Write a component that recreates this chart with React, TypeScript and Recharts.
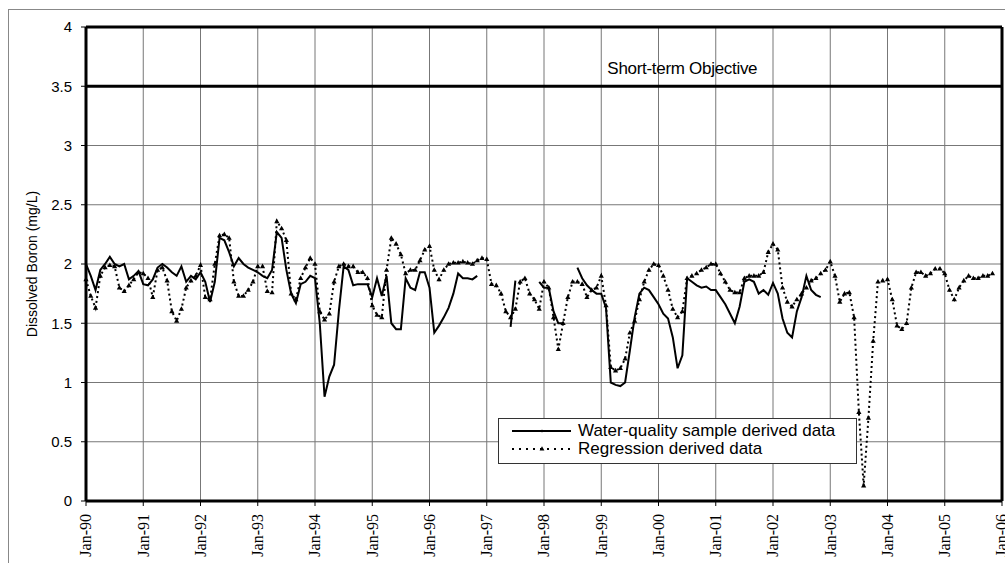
import React from 'react';
import { LineChart, Line, XAxis, YAxis, CartesianGrid, ReferenceLine } from 'recharts';

// Tick labels (one per January, months since Jan-1990)
const yearLabels = ['Jan-90','Jan-91','Jan-92','Jan-93','Jan-94','Jan-95','Jan-96','Jan-97','Jan-98','Jan-99','Jan-00','Jan-01','Jan-02','Jan-03','Jan-04','Jan-05','Jan-06'];
const yTicks = [0, 0.5, 1, 1.5, 2, 2.5, 3, 3.5, 4];
const objectiveValue = 3.5;
const objectiveLabel = 'Short-term Objective';
const seriesNames = ['Water-quality sample derived data', 'Regression derived data'];

// Monthly values starting Jan-1990 (null = no sample)
const waterQuality: (number | null)[] = [
  2.0, 1.9, 1.78, 1.95, 2.0, 2.06, 2.0, 1.98, 2.0, 1.87, 1.9, 1.94,
  1.83, 1.82, 1.87, 1.97, 2.0, 1.97, 1.93, 1.9, 1.98, 1.85, 1.9, 1.87,
  1.93, 1.85, 1.68, 1.85, 2.22, 2.2, 2.1, 1.98, 2.05, 2.0, 1.97, 1.95,
  1.93, 1.9, 1.88, 1.95, 2.27, 2.22, 1.95, 1.75, 1.67, 1.83, 1.85, 1.9,
  1.88, 1.5, 0.88, 1.05, 1.15, 1.6, 1.98, 1.95, 1.82, 1.83, 1.83, 1.83,
  1.72, 1.88, 1.73, 1.9, 1.5, 1.45, 1.45, 1.88, 1.8, 1.78, 1.93, 1.93,
  1.8, 1.42, 1.48, 1.55, 1.63, 1.75, 1.92, 1.88, 1.88, 1.87, 1.9, null,
  null, null, null, null, null, 1.47, 1.86, null, null, null, null, 1.85,
  1.8, 1.8, 1.6, 1.5, 1.5, null, null, 1.97, 1.88, 1.82, 1.78, 1.75,
  1.75, 1.63, 1.0, 0.98, 0.97, 1.0, 1.27, 1.55, 1.75, 1.8, 1.78, 1.72,
  1.66, 1.58, 1.54, 1.38, 1.12, 1.23, 1.88, 1.85, 1.82, 1.8, 1.81, 1.78,
  1.78, 1.72, 1.66, 1.58, 1.5, 1.64, 1.85, 1.87, 1.85, 1.75, 1.78, 1.74,
  1.84, 1.75, 1.54, 1.42, 1.38, 1.6, 1.72, 1.9, 1.78, 1.74, 1.72,
];

const regression: number[] = [
  1.87, 1.73, 1.63, 1.9, 1.97, 1.99, 1.98, 1.8, 1.77, 1.82, 1.87, 1.93,
  1.92, 1.88, 1.72, 1.95, 1.97, 1.86, 1.6, 1.52, 1.62, 1.8, 1.86, 1.9,
  1.99, 1.72, 1.7, 2.0, 2.24, 2.25, 2.22, 1.85, 1.73, 1.73, 1.78, 1.85,
  1.98, 1.98, 1.77, 1.76, 2.36, 2.3, 2.2, 1.75, 1.7, 1.88, 1.97, 2.05,
  2.0, 1.6, 1.53, 1.58, 1.85, 1.98, 2.0, 1.98, 1.98, 1.93, 1.93, 1.88,
  1.65, 1.57, 1.55, 1.95, 2.22, 2.17, 2.08, 1.92, 1.95, 1.95, 2.03, 2.12,
  2.15, 1.95, 1.87, 1.95, 2.0, 2.01, 2.01, 2.02, 2.01, 2.0, 2.03, 2.05,
  2.04, 1.83, 1.82, 1.75, 1.6, 1.55, 1.62, 1.85, 1.88, 1.75, 1.7, 1.62,
  1.85, 1.8, 1.55, 1.28, 1.5, 1.72, 1.85, 1.85, 1.83, 1.72, 1.78, 1.8,
  1.9, 1.65, 1.13, 1.1, 1.12, 1.2, 1.42, 1.52, 1.7, 1.85, 1.95, 2.0,
  1.99, 1.9, 1.78, 1.62, 1.55, 1.6, 1.88, 1.9, 1.92, 1.95, 1.97, 2.0,
  2.0, 1.92, 1.85, 1.78, 1.76, 1.76, 1.88, 1.9, 1.9, 1.9, 1.93, 2.1,
  2.17, 2.12, 1.8, 1.68, 1.64, 1.7, 1.75, 1.8, 1.86, 1.88, 1.92, 1.95,
  2.02, 1.9, 1.68, 1.75, 1.76, 1.55, 0.75, 0.13, 0.7, 1.35, 1.85, 1.86,
  1.87, 1.7, 1.48, 1.45, 1.5, 1.8, 1.93, 1.93, 1.9, 1.92, 1.96, 1.96,
  1.92, 1.78, 1.7, 1.8, 1.86, 1.9, 1.88, 1.88, 1.9, 1.9, 1.92,
];

const data = regression.map((r, i) => ({
  m: i,
  reg: r,
  wq: i < waterQuality.length ? waterQuality[i] : null,
}));

const xTicks = yearLabels.map((_, i) => i * 12);

const SANS = 'Liberation Sans, Arial, sans-serif';
const SERIF = 'Liberation Serif, Times New Roman, serif';

const XTick = (props: any) => {
  const { x, y, payload } = props;
  const label = yearLabels[Math.round(payload.value / 12)];
  return (
    <text
      x={x}
      y={y}
      transform={`rotate(-90, ${x}, ${y})`}
      textAnchor="end"
      dy="0.34em"
      style={{ fontFamily: SERIF, fontSize: 16 }}
      fill="#000"
    >
      {label}
    </text>
  );
};

const Triangle = (props: any) => {
  const { cx, cy, index } = props;
  if (cx == null || cy == null) return <g key={`t-${index}`} />;
  return (
    <path
      key={`t-${index}`}
      d={`M${cx},${cy - 2.8} L${cx + 2.6},${cy + 1.8} L${cx - 2.6},${cy + 1.8} Z`}
      fill="#000"
      stroke="none"
    />
  );
};

const YLabel = (props: any) => {
  const vb = props.viewBox || { x: 0, y: 27, width: 86, height: 474 };
  const x = vb.x + 32;
  const y = vb.y + vb.height / 2;
  return (
    <text
      x={x}
      y={y}
      transform={`rotate(-90, ${x}, ${y})`}
      textAnchor="middle"
      dy="0.35em"
      style={{ fontFamily: SANS, fontSize: 14 }}
      fill="#000"
    >
      Dissolved Boron (mg/L)
    </text>
  );
};

const ObjectiveLabel = (props: any) => {
  const vb = props.viewBox || { x: 86, y: 86, width: 916 };
  return (
    <text
      x={vb.x + vb.width * 0.651}
      y={vb.y - 12}
      textAnchor="middle"
      style={{ fontFamily: SANS, fontSize: 17, letterSpacing: -0.3 }}
      fill="#000"
    >
      {objectiveLabel}
    </text>
  );
};

const LegendBox = () => (
  <div
    style={{
      position: 'absolute',
      left: 498,
      top: 418,
      width: 359,
      height: 46,
      background: '#fff',
      border: '1px solid #333',
      boxSizing: 'border-box',
      fontFamily: SANS,
      fontSize: 17,
      color: '#000',
    }}
  >
    <div style={{ position: 'absolute', left: 12, top: 2, height: 19, display: 'flex', alignItems: 'center', whiteSpace: 'nowrap' }}>
      <svg width={62} height={10} style={{ display: 'block' }}>
        <line x1={1} y1={5} x2={60} y2={5} stroke="#000" strokeWidth={2} />
        <circle cx={31} cy={5} r={1.3} fill="#000" />
      </svg>
      <span style={{ marginLeft: 5, lineHeight: '19px' }}>{seriesNames[0]}</span>
    </div>
    <div style={{ position: 'absolute', left: 12, top: 20, height: 19, display: 'flex', alignItems: 'center', whiteSpace: 'nowrap' }}>
      <svg width={62} height={10} style={{ display: 'block' }}>
        <line x1={1} y1={5} x2={60} y2={5} stroke="#000" strokeWidth={2} strokeDasharray="2 5" />
        <path d="M31,2.2 L33.4,6.6 L28.6,6.6 Z" fill="#000" />
      </svg>
      <span style={{ marginLeft: 5, lineHeight: '19px' }}>{seriesNames[1]}</span>
    </div>
  </div>
);

export default function App() {
  return (
    <div style={{ position: 'absolute', left: 0, top: 0, width: 1005, height: 563, background: '#fff', overflow: 'hidden' }}>
      <div
        style={{
          position: 'absolute',
          left: 8,
          top: 9,
          width: 997,
          height: 554,
          borderLeft: '1px solid #888',
          borderTop: '1px solid #888',
        }}
      />
      <div style={{ position: 'absolute', left: 0, top: 0 }}>
        <LineChart width={1005} height={563} data={data} margin={{ top: 27, right: 3, bottom: 0, left: 0 }}>
          <CartesianGrid stroke="#777" strokeWidth={1} />
          <XAxis
            dataKey="m"
            type="number"
            domain={[0, 192]}
            ticks={xTicks}
            interval={0}
            height={62}
            tickSize={5}
            tickMargin={8}
            axisLine={{ stroke: '#000', strokeWidth: 3 }}
            tickLine={{ stroke: '#000', strokeWidth: 1 }}
            tick={<XTick />}
            allowDecimals={false}
          />
          <YAxis
            type="number"
            domain={[0, 4]}
            ticks={yTicks}
            interval={0}
            width={86}
            tickSize={5}
            tickMargin={9}
            axisLine={{ stroke: '#000', strokeWidth: 3 }}
            tickLine={{ stroke: '#000', strokeWidth: 1 }}
            tick={{ fill: '#000', fontSize: 15, fontFamily: SANS }}
            label={<YLabel />}
          />
          <ReferenceLine y={4} stroke="#000" strokeWidth={3} />
          <ReferenceLine x={192} stroke="#000" strokeWidth={3} />
          <ReferenceLine y={objectiveValue} stroke="#000" strokeWidth={3} label={<ObjectiveLabel />} />
          <Line
            dataKey="reg"
            type="linear"
            stroke="#000"
            strokeWidth={2}
            strokeDasharray="2 3"
            dot={<Triangle />}
            activeDot={false}
            isAnimationActive={false}
          />
          <Line
            dataKey="wq"
            type="linear"
            stroke="#000"
            strokeWidth={2}
            dot={false}
            activeDot={false}
            connectNulls={false}
            isAnimationActive={false}
          />
        </LineChart>
      </div>
      <LegendBox />
    </div>
  );
}
